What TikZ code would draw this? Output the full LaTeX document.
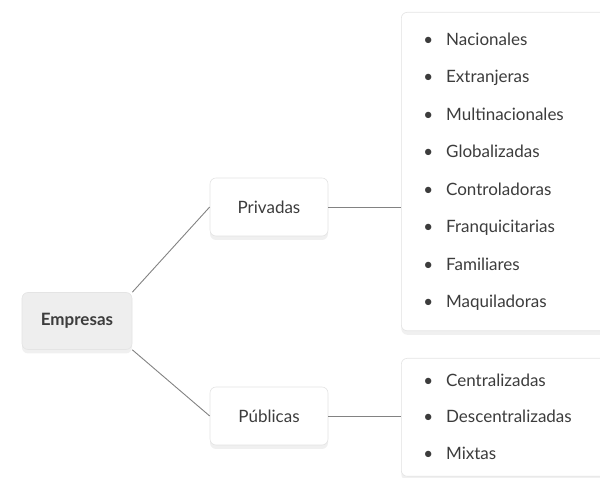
\documentclass[tikz,border=0pt]{standalone}
\usepackage{fontspec}
\setmainfont{Lato}
\usepackage{xcolor}
\usetikzlibrary{shadows}
\definecolor{grisfondo}{RGB}{238,238,238}
\definecolor{grisborde}{RGB}{228,228,228}
\definecolor{grislinea}{RGB}{130,130,130}
\definecolor{textogris}{RGB}{60,60,60}

\tikzset{
  caja/.style={draw=grisborde, line width=0.6pt, fill=white, rounded corners=6pt,
    text=textogris, font=\fontsize{17}{19}\selectfont,
    drop shadow={opacity=0.12, shadow xshift=0pt, shadow yshift=-4pt}},
  lista/.style={caja, anchor=north west, align=left, text width=170pt,
    inner xsep=22pt, inner ysep=0pt, font=\fontsize{17}{37.5}\selectfont},
  enlace/.style={draw=grislinea, line width=0.9pt}
}
\newcommand{\punto}{\textbullet\hspace{13pt}}

\begin{document}
\begin{tikzpicture}[x=1pt, y=1pt]
    \useasboundingbox (0,0) rectangle (600,478);

    \node[caja, fill=grisfondo, minimum width=110pt, minimum height=57pt,
      font=\fontsize{17}{19}\selectfont\bfseries] (empresas) at (77,157) {Empresas};
    \node[caja, minimum width=118pt, minimum height=58pt] (privadas) at (269,271) {Privadas};
    \node[caja, minimum width=118pt, minimum height=58pt] (publicas) at (269,62) {Públicas};

    \node[lista] (listapriv) at (401,466) {
      \rule{0pt}{33pt}\punto Nacionales \\
      \punto Extranjeras \\
      \punto Multinacionales \\
      \punto Globalizadas \\
      \punto Controladoras \\
      \punto Franquicitarias \\
      \punto Familiares \\
      \punto Maquiladoras\rule[-23pt]{0pt}{23pt}
    };
    \node[lista, font=\fontsize{17}{36.5}\selectfont] (listapub) at (401,120) {
      \rule{0pt}{28pt}\punto Centralizadas \\
      \punto Descentralizadas \\
      \punto Mixtas\rule[-17pt]{0pt}{17pt}
    };

    % conectores
    \draw[enlace] (empresas.north east) -- (privadas.west);
    \draw[enlace] (empresas.south east) -- (publicas.west);
    \draw[enlace] (privadas.east) -- (privadas.east -| listapriv.west);
    \draw[enlace] (publicas.east) -- (publicas.east -| listapub.west);
  \end{tikzpicture}
\end{document}
